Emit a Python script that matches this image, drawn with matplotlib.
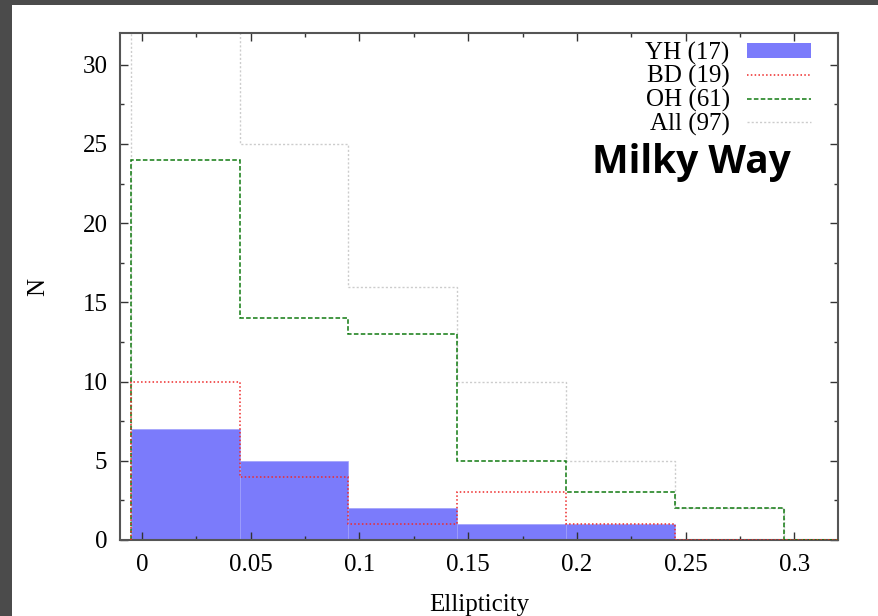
import numpy as np
import matplotlib as mpl
import matplotlib.pyplot as plt
from matplotlib.patches import Rectangle, Patch
from matplotlib.lines import Line2D

mpl.rcParams['font.family'] = ['Liberation Serif', 'DejaVu Serif']

# bin edges (last edge runs past the x range so the zero level reaches the frame)
edges = [-0.005, 0.045, 0.095, 0.145, 0.195, 0.245, 0.295, 0.345]
yh = [7, 5, 2, 1, 1, 0, 0]
bd = [10, 4, 1, 3, 1, 0, 0]
oh = [24, 14, 13, 5, 3, 2, 0]
all_ = [39, 25, 16, 10, 5, 2, 0]
labels = ['YH (17)', 'BD (19)', 'OH (61)', 'All (97)']

xticks = [0, 0.05, 0.1, 0.15, 0.2, 0.25, 0.3]
xticklabels = ['0', '0.05', '0.1', '0.15', '0.2', '0.25', '0.3']
yticks = [0, 5, 10, 15, 20, 25, 30]

fig = plt.figure(figsize=(8.79, 6.16), dpi=100, facecolor='#4b4b4b')
# white page inside the dark border
fig.patches.append(Rectangle((12 / 879, 0), 1, 1 - 5 / 616, transform=fig.transFigure,
                             facecolor='white', edgecolor='none', zorder=-10))
ax = fig.add_axes([120 / 879, 1 - 540 / 616, 718 / 879, 507 / 616])
ax.set_zorder(5)
ax.patch.set_alpha(0)

e = np.array(edges)
ax.bar(e[:-1], yh, width=np.diff(e), align='edge', color='#7b7bfb',
       edgecolor='#a0a0fb', linewidth=0.5, zorder=1)
ax.stairs(all_, e, baseline=0, color='#cccccc', linestyle=(0, (1.5, 1.5)), lw=1.0, zorder=2)
ax.stairs(oh, e, baseline=0, color='#117a11', linestyle=(0, (3, 1.5)), lw=1.1, zorder=3)
ax.stairs(bd, e, baseline=0, color='#ee2a2a', linestyle=(0, (1, 1.5)), lw=1.1, zorder=4)

ax.set_xlim(-0.01, 0.32)
ax.set_ylim(0, 32)
ax.set_xticks(xticks)
ax.set_xticklabels(xticklabels)
ax.set_yticks(yticks)
ax.xaxis.set_minor_locator(mpl.ticker.MultipleLocator(0.025))
ax.yaxis.set_minor_locator(mpl.ticker.MultipleLocator(2.5))
ax.tick_params(which='both', direction='in', top=True, right=True,
               color='#333333', width=1.0, labelsize=18)
ax.tick_params(which='major', length=6)
ax.tick_params(which='minor', length=3)
ax.tick_params(axis='x', pad=10)
ax.tick_params(axis='y', pad=9)
for s in ax.spines.values():
    s.set_color('#555555')
    s.set_linewidth(1.5)

ax.set_xlabel('Ellipticity', fontsize=18, labelpad=13)
ax.set_ylabel('N', fontsize=18, labelpad=24)

handles = [Patch(facecolor='#7b7bfb', edgecolor='none'),
           Line2D([], [], color='#ee2a2a', linestyle=(0, (1, 1.5)), lw=1.1),
           Line2D([], [], color='#117a11', linestyle=(0, (3, 1.5)), lw=1.1),
           Line2D([], [], color='#cccccc', linestyle=(0, (1.5, 1.5)), lw=1.0)]
ax.legend(handles, labels, loc='upper right', bbox_to_anchor=(0.985, 1.015),
          frameon=False, markerfirst=False, fontsize=18, handlelength=2.55,
          handleheight=0.5, labelspacing=0.02, handletextpad=0.7, borderpad=0.15)

ax.text(0.9345, 0.723, 'Milky Way', transform=ax.transAxes, ha='right', va='baseline',
        fontsize=28, fontweight='bold', family='Open Sans')

fig.savefig('out.png', dpi=100, facecolor=fig.get_facecolor())
